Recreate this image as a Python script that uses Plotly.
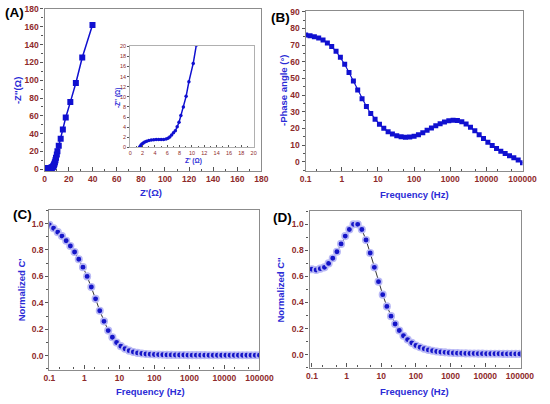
import plotly.graph_objects as go

# ---------------- data ----------------
# Nyquist (A): Z' (ohm), -Z'' (ohm)
z_re = [1.5, 1.6, 1.75, 1.9, 2.1, 2.35, 2.65, 3.0, 3.4, 3.8, 4.2, 4.6, 5.0, 5.4, 5.8,
        6.1, 6.4, 6.7, 7.0, 7.3, 7.6, 7.9, 8.2, 8.6, 9.05, 9.5, 10.2, 10.7, 11.8,
        13.4, 15.2, 17.6, 21.4, 26.0, 31.3, 39.8]
z_im = [0.0, 0.25, 0.5, 0.7, 0.9, 1.1, 1.25, 1.38, 1.47, 1.52, 1.55, 1.55, 1.55, 1.57, 1.65,
        1.8, 2.05, 2.45, 2.9, 3.3, 4.1, 5.0, 6.3, 8.0, 10.1, 13.0, 16.6, 20.2, 26.5,
        34.2, 44.5, 58.2, 75.4, 96.8, 125.5, 162.0]

# Frequencies (Hz)
freq = [0.1, 0.132, 0.174, 0.229, 0.302, 0.398, 0.525, 0.692, 0.912,
        1.2, 1.58, 2.09, 2.75, 3.63, 4.79, 6.31, 8.32,
        11, 14.5, 19.1, 25.1, 33.1, 43.7, 57.5, 75.9,
        100, 132, 174, 229, 302, 398, 525, 692, 912,
        1200, 1580, 2090, 2750, 3630, 4790, 6310, 8320,
        11000, 14500, 19100, 25100, 33100, 43700, 57500, 75900, 100000]

# (B) -Phase angle (deg)
phase = [76.0, 75.6, 75.0, 74.2, 73.0, 71.3, 69.1, 66.3, 62.7,
         58.5, 53.6, 48.5, 43.1, 37.9, 33.2, 29.0, 25.5,
         22.5, 20.1, 18.1, 16.7, 15.7, 15.1, 14.8, 14.9,
         15.4, 16.3, 17.5, 18.9, 20.3, 21.7, 22.9, 23.9, 24.6,
         24.9, 24.8, 24.1, 22.7, 20.8, 18.6, 16.3, 14.0,
         11.8, 9.8, 8.0, 6.4, 5.0, 3.7, 2.4, 1.1, -0.5]

# (C) Normalized C'
c_real = [0.99, 0.965, 0.935, 0.905, 0.87, 0.83, 0.785, 0.73, 0.67,
          0.60, 0.52, 0.43, 0.34, 0.26, 0.19, 0.14, 0.10,
          0.072, 0.052, 0.038, 0.028, 0.021, 0.016, 0.013, 0.011,
          0.009, 0.008, 0.007, 0.006, 0.006, 0.005, 0.005, 0.005, 0.004,
          0.004, 0.004, 0.004, 0.004, 0.003, 0.003, 0.003, 0.003,
          0.003, 0.003, 0.003, 0.003, 0.003, 0.003, 0.003, 0.003, 0.003]

# (D) Normalized C''
c_imag = [0.655, 0.65, 0.66, 0.67, 0.70, 0.74, 0.79, 0.85, 0.91,
          0.96, 1.0, 1.0, 0.96, 0.88, 0.78, 0.67, 0.56,
          0.46, 0.37, 0.295, 0.235, 0.185, 0.145, 0.115, 0.09,
          0.07, 0.056, 0.045, 0.036, 0.029, 0.024, 0.02, 0.017, 0.014,
          0.012, 0.011, 0.01, 0.009, 0.008, 0.008, 0.007, 0.007,
          0.006, 0.006, 0.006, 0.006, 0.005, 0.005, 0.005, 0.005, 0.005]

log_ticks = [0.1, 1, 10, 100, 1000, 10000, 100000]
log_text = ["0.1", "1", "10", "100", "1000", "10000", "100000"]

# ---------------- style ----------------
W, H = 550, 404
TICK_COL = "#8e2a2a"
TITLE_COL = "#2b2bd6"
AX_COL = "#8c8c8c"
BLUE = "#1010d0"
FONT = "Liberation Sans"


def dx(a, b):
    return [a / W, b / W]


def dy(top, bottom):
    return [1 - bottom / H, 1 - top / H]


fig = go.Figure()

# A main
fig.add_trace(go.Scatter(x=z_re, y=z_im, mode="lines+markers", xaxis="x", yaxis="y",
                         line=dict(color=BLUE, width=1.5),
                         marker=dict(symbol="square", size=6, color=BLUE),
                         showlegend=False))
# A inset
fig.add_trace(go.Scatter(x=z_re, y=z_im, mode="lines+markers", xaxis="x2", yaxis="y2",
                         line=dict(color=BLUE, width=1.5),
                         marker=dict(symbol="circle", size=3.5, color=BLUE),
                         showlegend=False, cliponaxis=True))
# B
fig.add_trace(go.Scatter(x=freq, y=phase, mode="lines+markers", xaxis="x3", yaxis="y3",
                         line=dict(color=BLUE, width=1.2),
                         marker=dict(symbol="square", size=5, color=BLUE),
                         showlegend=False))
# C
fig.add_trace(go.Scatter(x=freq, y=c_real, mode="lines+markers", xaxis="x4", yaxis="y4",
                         line=dict(color="#333333", width=1),
                         marker=dict(symbol="circle", size=6.5, color="#1515c8",
                                     line=dict(color="#b9b9f5", width=1.6)),
                         showlegend=False))
# D
fig.add_trace(go.Scatter(x=freq, y=c_imag, mode="lines+markers", xaxis="x5", yaxis="y5",
                         line=dict(color="#333333", width=1),
                         marker=dict(symbol="circle", size=6.5, color="#1515c8",
                                     line=dict(color="#b9b9f5", width=1.6)),
                         showlegend=False))

tickfont = dict(family=FONT, size=8.5, color=TICK_COL, weight="bold")
small_tickfont = dict(family=FONT, size=5.5, color=TICK_COL)

common_x = dict(showline=True, linecolor=AX_COL, linewidth=1.3, mirror=True,
                showgrid=False, zeroline=False, ticks="inside", ticklen=4,
                tickcolor="#555555", tickfont=tickfont)
common_y = dict(showline=True, linecolor=AX_COL, linewidth=1.3, mirror=True,
                showgrid=False, zeroline=False, ticks="outside", ticklen=3,
                tickcolor="#555555", tickfont=tickfont)

minor_lin = dict(ticks="inside", ticklen=2, tickcolor="#555555")

fig.update_layout(
    width=W, height=H, margin=dict(l=0, r=0, t=0, b=0),
    paper_bgcolor="white", plot_bgcolor="white",
    xaxis=dict(common_x, domain=dx(40, 265), range=[0, 180], dtick=20,
               anchor="y", minor=dict(minor_lin, dtick=10)),
    yaxis=dict(common_y, domain=dy(5, 170), range=[-2, 180], dtick=20,
               anchor="x", minor=dict(ticks="outside", ticklen=2, dtick=10, tickcolor="#555555")),
    xaxis2=dict(common_x, domain=dx(129, 257), range=[0, 20], dtick=2,
                anchor="y2", ticklen=2, tickfont=small_tickfont, linecolor="#b0b0b0",
                minor=dict(ticks="inside", ticklen=1, dtick=1, tickcolor="#555555")),
    yaxis2=dict(common_y, domain=dy(43, 146), range=[0, 20], dtick=2,
                anchor="x2", ticklen=2, tickfont=small_tickfont, linecolor="#b0b0b0"),
    xaxis3=dict(common_x, domain=dx(311, 536), type="log", range=[-1, 5],
                tickvals=log_ticks, ticktext=log_text, anchor="y3",
                minor=dict(ticks="inside", ticklen=2, tickcolor="#555555")),
    yaxis3=dict(common_y, domain=dy(7, 170), range=[-5.5, 90.5], dtick=10,
                anchor="x3", minor=dict(ticks="outside", ticklen=2, dtick=5, tickcolor="#555555")),
    xaxis4=dict(common_x, domain=dx(45, 263), type="log", range=[-1, 5],
                tickvals=log_ticks, ticktext=log_text, anchor="y4",
                minor=dict(ticks="inside", ticklen=2, tickcolor="#555555")),
    yaxis4=dict(common_y, domain=dy(210, 372), range=[-0.105, 1.1], dtick=0.2,
                tickformat=".1f", anchor="x4",
                minor=dict(ticks="outside", ticklen=2, dtick=0.1, tickcolor="#555555")),
    xaxis5=dict(common_x, domain=dx(315, 534), type="log", range=[-1.07, 5.02],
                tickvals=log_ticks, ticktext=log_text, anchor="y5",
                minor=dict(ticks="inside", ticklen=2, tickcolor="#555555")),
    yaxis5=dict(common_y, domain=dy(211, 370), range=[-0.1, 1.1], dtick=0.2,
                tickformat=".1f", anchor="x5",
                minor=dict(ticks="outside", ticklen=2, dtick=0.1, tickcolor="#555555")),
)

title_font = dict(family=FONT, size=9.5, color=TITLE_COL, weight="bold")
panel_font = dict(family=FONT, size=13.5, color="black", weight="bold")


def ann(text, x, y, font, angle=0, pad=1):
    fig.add_annotation(text=text, x=x / W, y=1 - y / H, xref="paper", yref="paper",
                       showarrow=False, font=font, textangle=angle,
                       xanchor="center", yanchor="middle", borderpad=pad)


# axis titles
ann("Z'(Ω)", 150, 192, title_font)
ann("-Z''(Ω)", 12, 88, title_font, -90)
ann("Frequency (Hz)", 424, 194, title_font)
ann("-Phase angle (°)", 288, 88, title_font, -90)
ann("Frequency (Hz)", 150, 394, title_font)
ann("Normalized C'", 17, 291, title_font, -90)
ann("Frequency (Hz)", 424, 394, title_font)
ann("Normalized C''", 285, 291, title_font, -90)

# inset titles
small_title = dict(family=FONT, size=6.5, color=TITLE_COL, weight="bold")
ann("Z' (Ω)", 195, 160, small_title)
ann("-Z'' (Ω)", 117, 95, small_title, -90)

# panel labels
ann("(A)", 9, 9, panel_font, pad=0)
ann("(B)", 285, 14, panel_font, pad=0)
ann("(C)", 17, 214, panel_font, pad=0)
ann("(D)", 287, 217, panel_font, pad=0)

fig.write_html("out.html")
